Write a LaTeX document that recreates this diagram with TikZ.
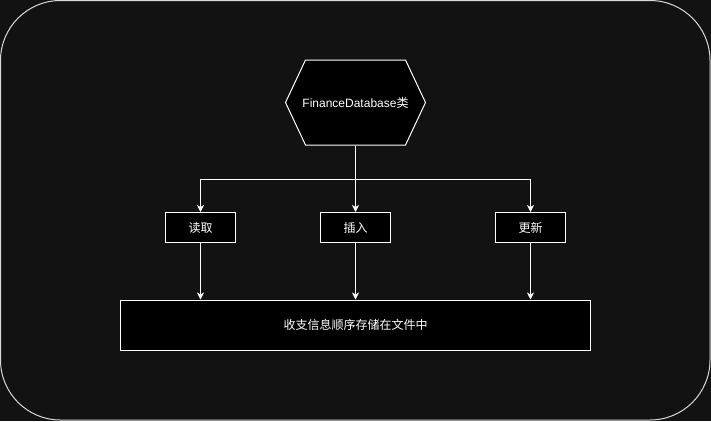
\documentclass[tikz,border=0pt]{standalone}
\usepackage{fontspec}
\setmainfont{Liberation Sans}
\newfontfamily\cjk{Noto Sans CJK SC}
\usetikzlibrary{arrows.meta,calc}
\definecolor{bgdark}{HTML}{121212}

\begin{document}
\begin{tikzpicture}[x=1pt,y=-1pt,
    box/.style={draw=white,fill=black,text=white,line width=1pt,font=\fontsize{12}{14}\selectfont,inner sep=0pt},
    arr/.style={draw=white,line width=1pt,-{Stealth[length=7pt,width=7pt,inset=2pt]}}]
                \useasboundingbox[fill=bgdark] (0,0) rectangle (711,421);
                \draw[white!85!black,line width=1pt,rounded corners=60pt] (0.5,0.5) rectangle (710,420);
                \coordinate (dbc) at (355.5,102.5);
                \draw[white,fill=black,line width=1pt] ($(dbc)+(-70,0)$) -- ($(dbc)+(-50,-42.5)$) -- ($(dbc)+(50,-42.5)$)
                    -- ($(dbc)+(70,0)$) -- ($(dbc)+(50,42.5)$) -- ($(dbc)+(-50,42.5)$) -- cycle;
                \node[box,draw=none,fill=none,minimum width=140pt,minimum height=85pt] (db) at (dbc) {FinanceDatabase{\cjk 类}};
                \node[box,minimum width=70pt,minimum height=30pt] (read) at (200.5,227.5) {\cjk 读取};
                \node[box,minimum width=70pt,minimum height=30pt] (ins) at (355.5,227.5) {\cjk 插入};
                \node[box,minimum width=70pt,minimum height=30pt] (upd) at (530.5,227.5) {\cjk 更新};
                \node[box,minimum width=470pt,minimum height=50pt] (store) at (355.5,325) {\cjk 收支信息顺序存储在文件中};
                \coordinate (split) at (355.5,179);
                \draw[white,line width=1pt] (db.south) -- (split);
                \draw[arr] (split) -| (read);
                \draw[arr] (split) -- (ins);
                \draw[arr] (split) -| (upd);
                \draw[arr] (read) -- (read |- store.north);
                \draw[arr] (ins) -- (store);
                \draw[arr] (upd) -- (upd |- store.north);
            \end{tikzpicture}
\end{document}
